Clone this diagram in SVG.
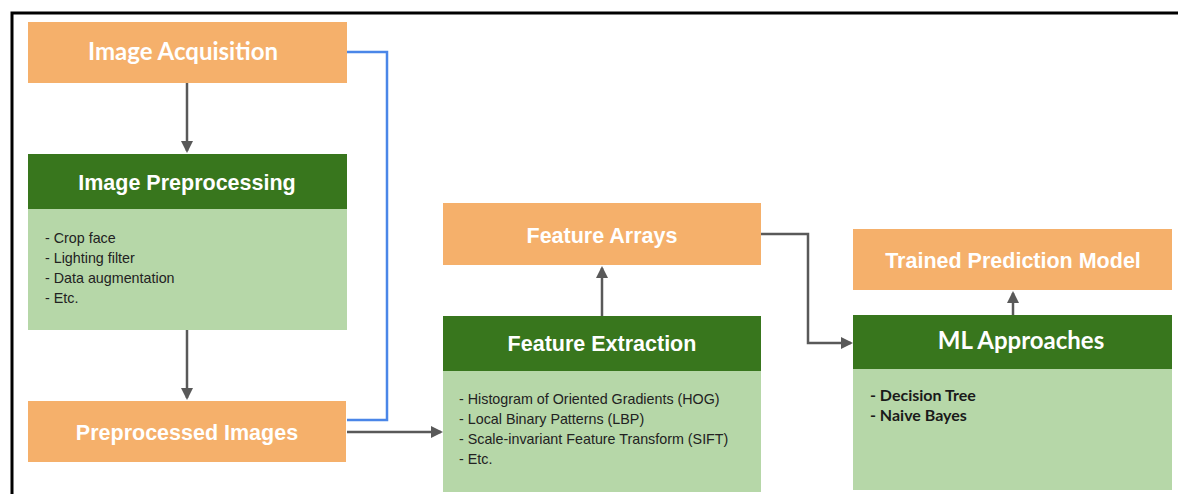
<svg xmlns="http://www.w3.org/2000/svg" width="1178" height="494" viewBox="0 0 1178 494">
<style>
.org{fill:#f5b06b}
.hdr{fill:#38761d}
.bdy{fill:#b6d7a8}
.t{font-family:"Liberation Sans",Arial,sans-serif;font-weight:bold;font-size:21.5px;fill:#ffffff;text-anchor:middle}
.tc{font-family:Lato,"Open Sans",sans-serif;font-weight:bold;font-size:24px;fill:#ffffff;text-anchor:middle}
.b{font-family:"Liberation Sans",Arial,sans-serif;font-size:14.3px;fill:#222222}
.bc{font-family:Lato,"Open Sans",sans-serif;font-weight:bold;font-size:16px;fill:#1a1a1a}
.c{fill:none;stroke:#595959;stroke-width:2.5}
.bl{fill:none;stroke:#4a86e8;stroke-width:2.5}
</style>
<defs>
<marker id="ah" markerWidth="12" markerHeight="12" refX="10" refY="6" orient="auto" markerUnits="userSpaceOnUse">
<path d="M0,0 L12,6 L0,12 Z" fill="#595959"/>
</marker>
</defs>
<rect width="1178" height="494" fill="#ffffff"/>
<path d="M12,494 L12,13 L1178,13" fill="none" stroke="#000" stroke-width="3"/>
<g id="connectors">
<path class="bl" d="M347,52 H387 V420 H347"/>
<path class="c" d="M187,83 V151" marker-end="url(#ah)"/>
<path class="c" d="M187,330 V398" marker-end="url(#ah)"/>
<path class="c" d="M347,432 H441" marker-end="url(#ah)"/>
<path class="c" d="M602,316 V268" marker-end="url(#ah)"/>
<path class="c" d="M761,234 H808 V343 H851" marker-end="url(#ah)"/>
<path class="c" d="M1013,315 V293" marker-end="url(#ah)"/>
</g>
<g id="image-acquisition">
<rect class="org" x="28" y="22" width="319" height="61"/>
<text class="tc" x="183" y="60">Image Acquisition</text>
</g>
<g id="image-preprocessing">
<rect class="hdr" x="28" y="154" width="319" height="55"/>
<rect class="bdy" x="28" y="209" width="319" height="121"/>
<text class="t" x="187" y="190">Image Preprocessing</text>
<text class="b" x="45" y="243">- Crop face</text>
<text class="b" x="45" y="263">- Lighting filter</text>
<text class="b" x="45" y="283">- Data augmentation</text>
<text class="b" x="45" y="303">- Etc.</text>
</g>
<g id="preprocessed-images">
<rect class="org" x="28" y="401" width="318" height="61"/>
<text class="t" x="187" y="440">Preprocessed Images</text>
</g>
<g id="feature-arrays">
<rect class="org" x="443" y="203" width="318" height="62"/>
<text class="t" x="602" y="243">Feature Arrays</text>
</g>
<g id="feature-extraction">
<rect class="hdr" x="443" y="316" width="318" height="55"/>
<rect class="bdy" x="443" y="371" width="318" height="121"/>
<text class="t" x="602" y="351">Feature Extraction</text>
<text class="b" x="459" y="404">- Histogram of Oriented Gradients (HOG)</text>
<text class="b" x="459" y="424">- Local Binary Patterns (LBP)</text>
<text class="b" x="459" y="444">- Scale-invariant Feature Transform (SIFT)</text>
<text class="b" x="459" y="464">- Etc.</text>
</g>
<g id="trained-prediction-model">
<rect class="org" x="853" y="229" width="319" height="61"/>
<text class="t" x="1013" y="268">Trained Prediction Model</text>
</g>
<g id="ml-approaches">
<rect class="hdr" x="853" y="315" width="319" height="54"/>
<rect class="bdy" x="853" y="369" width="319" height="121"/>
<text class="tc" x="1021" y="349">ML Approaches</text>
<text class="bc" x="870" y="401">- Decision Tree</text>
<text class="bc" x="870" y="421">- Naive Bayes</text>
</g>
</svg>
